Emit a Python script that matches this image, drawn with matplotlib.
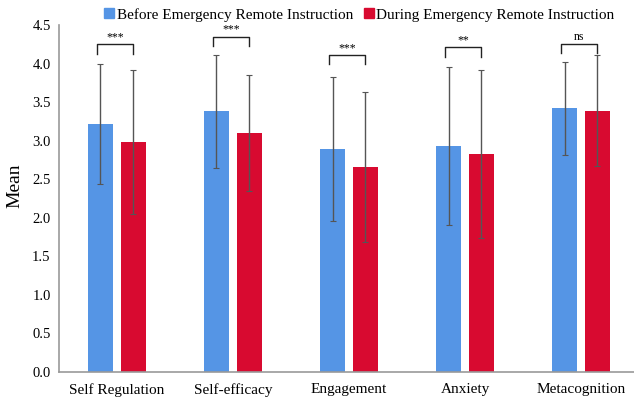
import numpy as np
import matplotlib.pyplot as plt
from matplotlib.lines import Line2D

plt.rcParams['font.family'] = ['Liberation Serif', 'DejaVu Serif']

categories = ['Self Regulation', 'Self-efficacy', 'Engagement', 'Anxiety', 'Metacognition']
before_mean = [3.22, 3.38, 2.89, 2.93, 3.42]
before_sd = [0.78, 0.73, 0.93, 1.03, 0.60]
during_mean = [2.98, 3.10, 2.66, 2.83, 3.39]
during_sd = [0.93, 0.75, 0.97, 1.09, 0.72]
sig_labels = ['***', '***', '***', '**', 'ns']
sig_height = [4.25, 4.35, 4.11, 4.21, 4.26]

blue = '#5595E5'
red = '#D80A30'

fig = plt.figure(figsize=(6.34, 4.0), dpi=100)
ax = fig.add_axes([0.093, 0.07, 0.907, 0.8675])

x = np.arange(len(categories))
w = 0.216
off = 0.142
ekw = dict(ecolor='#555555', elinewidth=1.0, capsize=2, capthick=0.8)
ax.bar(x - off, before_mean, w, color=blue, yerr=before_sd, error_kw=ekw, zorder=2)
ax.bar(x + off, during_mean, w, color=red, yerr=during_sd, error_kw=ekw, zorder=2)

# significance brackets
for i, (lab, h) in enumerate(zip(sig_labels, sig_height)):
    x0, x1 = i - off - 0.03, i + off
    ax.plot([x0, x0, x1, x1], [h - 0.12, h, h, h - 0.12], color='#222222', lw=1.0)
    ax.text((x0 + x1) / 2, h + 0.01, lab, ha='center', va='bottom', fontsize=8.5)

ax.set_xlim(-0.5, 4.457)
ax.set_ylim(0, 4.5)
ax.set_yticks(np.arange(0, 4.51, 0.5))
ax.set_yticklabels(['%.1f' % v for v in np.arange(0, 4.51, 0.5)], fontsize=10.5)
ax.set_xticks(x)
ax.set_xticklabels(categories, fontsize=11)
ax.tick_params(axis='y', length=0, pad=6)
ax.tick_params(axis='x', length=0, pad=8)
ax.set_ylabel('Mean', fontsize=14)
ax.yaxis.set_label_coords(-0.062, 0.536)
for s in ['top', 'right']:
    ax.spines[s].set_visible(False)
for s in ['left', 'bottom']:
    ax.spines[s].set_color('#999999')
    ax.spines[s].set_linewidth(1.2)

handles = [Line2D([], [], marker='s', ls='', color=blue, markersize=6.5),
           Line2D([], [], marker='s', ls='', color=red, markersize=6.5)]
fig.legend(handles, ['Before Emergency Remote Instruction', 'During Emergency Remote Instruction'],
           loc='upper center', bbox_to_anchor=(0.565, 1.015), ncol=2, frameon=False,
           fontsize=11, handletextpad=0.0, columnspacing=0.5, handlelength=1.0)

fig.savefig('out.png', dpi=100)
